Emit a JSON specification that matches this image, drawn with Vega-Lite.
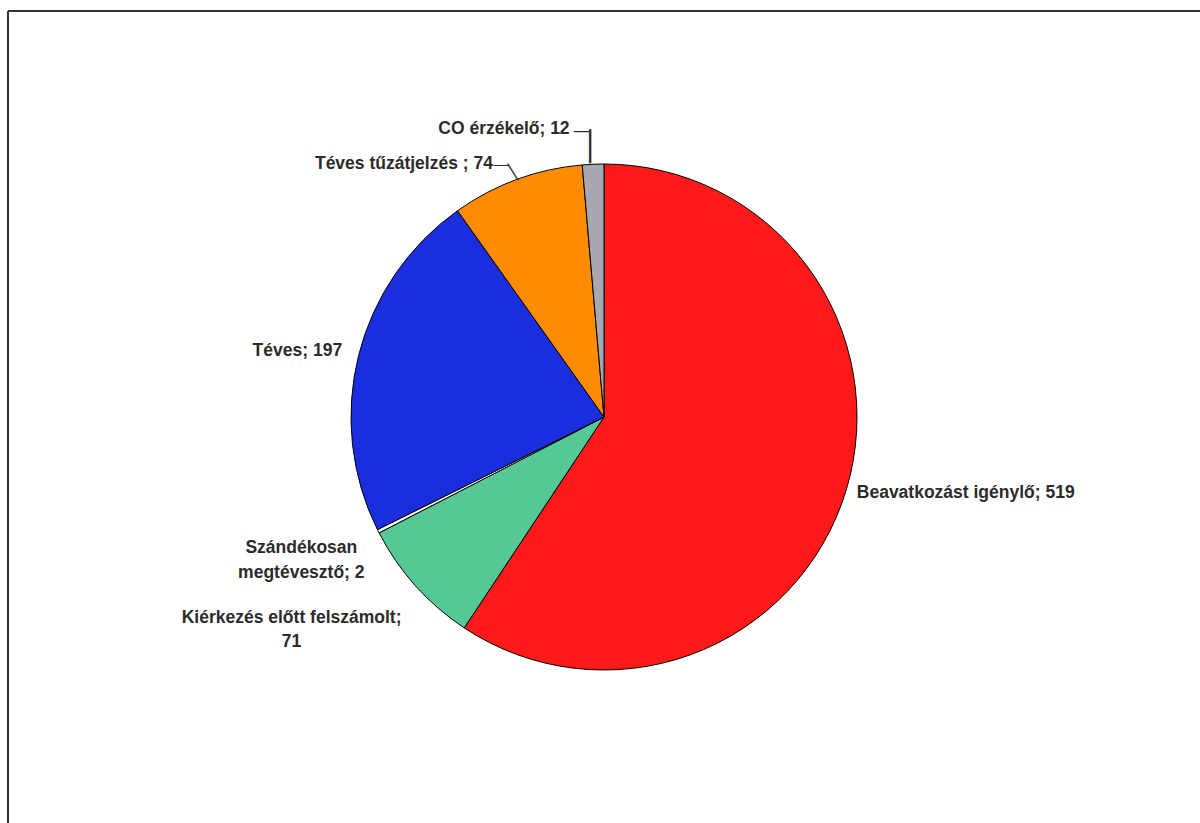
{
  "$schema": "https://vega.github.io/schema/vega-lite/v6.json",
  "autosize": {"type": "none"},
  "width": 1192,
  "height": 812,
  "padding": {"left": 8, "top": 11, "right": 0, "bottom": 0},
  "background": "#ffffff",
  "view": {"stroke": "#333333", "strokeWidth": 2, "strokeDash": [1192, 2004, 812, 0]},
  "data": {
    "values": [
      {"cat": "Beavatkozást igénylő", "value": 519, "order": 1, "label": "Beavatkozást igénylő; 519"},
      {"cat": "Kiérkezés előtt felszámolt", "value": 71, "order": 2, "label": "Kiérkezés előtt felszámolt;\n71"},
      {"cat": "Szándékosan megtévesztő", "value": 2, "order": 3, "label": "Szándékosan\nmegtévesztő; 2"},
      {"cat": "Téves", "value": 197, "order": 4, "label": "Téves; 197"},
      {"cat": "Téves tűzátjelzés", "value": 74, "order": 5, "label": "Téves tűzátjelzés ; 74"},
      {"cat": "CO érzékelő", "value": 12, "order": 6, "label": "CO érzékelő; 12"}
    ]
  },
  "encoding": {
    "theta": {"field": "value", "type": "quantitative", "stack": true},
    "order": {"field": "order", "type": "quantitative"}
  },
  "layer": [
    {
      "mark": {"type": "arc", "radius": 253, "stroke": "#000000", "strokeWidth": 1},
      "encoding": {
        "color": {
          "field": "cat",
          "type": "nominal",
          "scale": {
            "domain": ["Beavatkozást igénylő", "Kiérkezés előtt felszámolt", "Szándékosan megtévesztő", "Téves", "Téves tűzátjelzés", "CO érzékelő"],
            "range": ["#ff1a1a", "#55c896", "#ffffff", "#1a2ee0", "#ff8c00", "#a8a8b0"]
          },
          "legend": null
        }
      }
    },
    {
      "mark": {"type": "text", "radius": 264, "align": "left", "baseline": "middle", "font": "Liberation Sans", "fontWeight": "bold", "fontSize": 17.5, "fill": "#2b2b2b"},
      "encoding": {"text": {"field": "label", "type": "nominal", "condition": {"test": "datum.cat !== 'Beavatkozást igénylő'", "value": ""}}}
    },
    {
      "mark": {"type": "text", "radius": 270, "align": "right", "baseline": "middle", "font": "Liberation Sans", "fontWeight": "bold", "fontSize": 17.5, "fill": "#2b2b2b"},
      "encoding": {"text": {"field": "label", "type": "nominal", "condition": {"test": "datum.cat !== 'Téves'", "value": ""}}}
    },
    {
      "mark": {"type": "text", "radius": 300, "dx": -35, "dy": -4, "align": "center", "baseline": "middle", "lineBreak": "\n", "lineHeight": 25, "font": "Liberation Sans", "fontWeight": "bold", "fontSize": 17.5, "fill": "#2b2b2b"},
      "encoding": {"text": {"field": "label", "type": "nominal", "condition": {"test": "datum.cat !== 'Szándékosan megtévesztő'", "value": ""}}}
    },
    {
      "mark": {"type": "text", "radius": 300, "dx": -89, "dy": 1, "align": "center", "baseline": "middle", "lineBreak": "\n", "lineHeight": 24, "font": "Liberation Sans", "fontWeight": "bold", "fontSize": 17.5, "fill": "#2b2b2b"},
      "encoding": {"text": {"field": "label", "type": "nominal", "condition": {"test": "datum.cat !== 'Kiérkezés előtt felszámolt'", "value": ""}}}
    },
    {
      "mark": {"type": "text", "radius": 270, "dx": -18, "align": "right", "baseline": "middle", "font": "Liberation Sans", "fontWeight": "bold", "fontSize": 17.5, "fill": "#2b2b2b"},
      "encoding": {"text": {"field": "label", "type": "nominal", "condition": {"test": "datum.cat !== 'Téves tűzátjelzés'", "value": ""}}}
    },
    {
      "mark": {"type": "text", "radius": 288, "dx": -22, "align": "right", "baseline": "middle", "font": "Liberation Sans", "fontWeight": "bold", "fontSize": 17.5, "fill": "#2b2b2b"},
      "encoding": {"text": {"field": "label", "type": "nominal", "condition": {"test": "datum.cat !== 'CO érzékelő'", "value": ""}}}
    },
    {
      "mark": {"type": "text", "radius": 286, "dx": -10, "align": "center", "baseline": "middle", "font": "Liberation Sans", "fontSize": 16, "fill": "#2b2b2b"},
      "encoding": {"text": {"condition": {"test": "datum.cat === 'CO érzékelő'", "value": "—"}, "value": ""}}
    },
    {
      "mark": {"type": "text", "radius": 268, "dx": -3, "angle": 90, "align": "center", "baseline": "middle", "font": "Liberation Sans", "fontSize": 34, "fill": "#2b2b2b"},
      "encoding": {"text": {"condition": {"test": "datum.cat === 'CO érzékelő'", "value": "—"}, "value": ""}}
    },
    {
      "mark": {"type": "text", "radius": 269, "dx": -10, "align": "center", "baseline": "middle", "font": "Liberation Sans", "fontSize": 15, "fill": "#2b2b2b"},
      "encoding": {"text": {"condition": {"test": "datum.cat === 'Téves tűzátjelzés'", "value": "—"}, "value": ""}}
    },
    {
      "mark": {"type": "text", "radius": 260, "dx": -1.5, "angle": 58, "align": "center", "baseline": "middle", "font": "Liberation Sans", "fontSize": 20, "fill": "#2b2b2b"},
      "encoding": {"text": {"condition": {"test": "datum.cat === 'Téves tűzátjelzés'", "value": "—"}, "value": ""}}
    }
  ]
}
